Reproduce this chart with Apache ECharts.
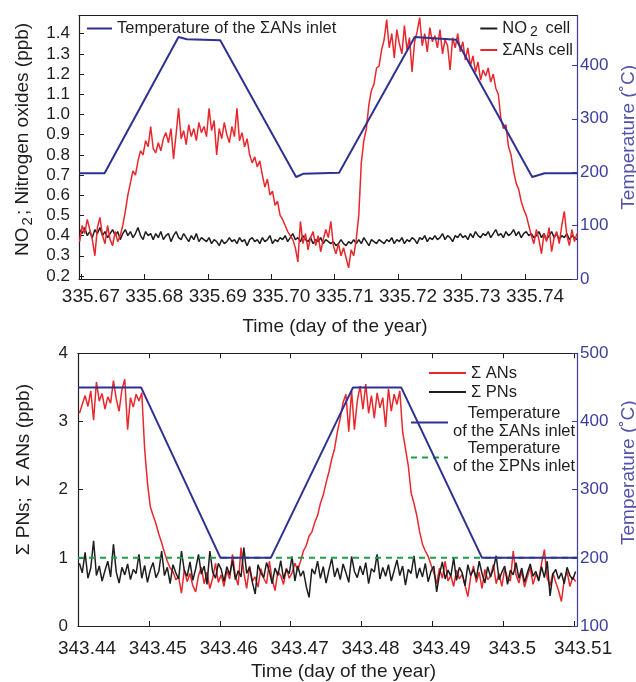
<!DOCTYPE html>
<html><head><meta charset="utf-8">
<script src="https://cdn.jsdelivr.net/npm/echarts@6/dist/echarts.min.js"></script>
<style>html,body{margin:0;padding:0;background:#fff}#c{width:636px;height:682px}</style>
</head><body><div id="c"></div>
<script>
// ---------- TOP PANEL DATA ----------
const topT0 = 335.6698, topStep = 0.0004;
const topANs = [
0.37,0.45,0.41,0.48,0.43,0.38,0.30,0.44,0.49,0.40,
0.36,0.45,0.38,0.35,0.42,0.37,0.40,0.45,0.52,0.60,
0.66,0.72,0.70,0.77,0.82,0.80,0.87,0.84,0.94,0.83,
0.81,0.86,0.82,0.88,0.91,0.86,0.93,0.78,0.90,1.03,
0.88,0.92,0.85,0.95,0.89,0.93,0.87,0.96,0.91,0.94,
0.89,1.03,0.92,0.97,0.80,0.93,0.88,0.96,0.90,0.86,
0.94,0.89,1.03,0.87,0.91,0.84,0.88,0.80,0.76,0.79,
0.74,0.77,0.70,0.64,0.68,0.60,0.62,0.55,0.57,0.50,
0.48,0.45,0.42,0.40,0.38,0.34,0.27,0.47,0.36,0.41,
0.33,0.39,0.42,0.35,0.40,0.32,0.38,0.43,0.39,0.47,
0.35,0.31,0.36,0.30,0.34,0.29,0.24,0.33,0.30,0.38,
0.50,0.76,0.87,0.93,1.05,1.12,1.15,1.23,1.24,1.32,
1.37,1.47,1.33,1.40,1.28,1.42,1.35,1.30,1.44,1.32,
1.38,1.21,1.36,1.41,1.48,1.34,1.40,1.31,1.43,1.36,
1.39,1.33,1.42,1.30,1.37,1.34,1.22,1.38,1.33,1.40,
1.31,1.36,1.27,1.33,1.24,1.29,1.21,1.26,1.17,1.22,
1.19,1.23,1.16,1.20,1.13,1.10,0.98,0.93,0.95,0.84,
0.80,0.72,0.66,0.63,0.57,0.53,0.50,0.45,0.40,0.36,
0.43,0.38,0.31,0.41,0.37,0.44,0.32,0.39,0.42,0.36,
0.45,0.52,0.40,0.35,0.43,0.37,0.41];
const topNO2 = [
0.43,0.41,0.44,0.40,0.42,0.39,0.43,0.41,0.44,0.40,
0.42,0.39,0.41,0.43,0.40,0.42,0.38,0.41,0.43,0.40,
0.42,0.39,0.41,0.44,0.40,0.38,0.42,0.40,0.41,0.38,
0.41,0.39,0.42,0.38,0.40,0.41,0.37,0.40,0.42,0.39,
0.38,0.41,0.39,0.37,0.40,0.38,0.41,0.37,0.39,0.38,
0.37,0.39,0.36,0.38,0.37,0.35,0.38,0.36,0.37,0.39,
0.37,0.38,0.36,0.39,0.37,0.38,0.35,0.38,0.39,0.37,
0.38,0.36,0.39,0.37,0.38,0.40,0.36,0.38,0.37,0.39,
0.38,0.40,0.37,0.39,0.41,0.38,0.39,0.37,0.40,0.38,
0.37,0.39,0.36,0.38,0.37,0.39,0.36,0.38,0.37,0.36,
0.37,0.35,0.36,0.38,0.36,0.35,0.37,0.36,0.38,0.36,
0.38,0.36,0.39,0.37,0.35,0.38,0.37,0.36,0.38,0.37,
0.36,0.38,0.37,0.39,0.36,0.38,0.37,0.39,0.36,0.38,
0.37,0.39,0.38,0.36,0.39,0.38,0.40,0.37,0.39,0.38,
0.40,0.38,0.39,0.41,0.38,0.40,0.39,0.37,0.40,0.39,
0.41,0.39,0.40,0.38,0.41,0.39,0.42,0.40,0.39,0.41,
0.40,0.42,0.39,0.41,0.43,0.40,0.41,0.39,0.42,0.40,
0.41,0.43,0.40,0.42,0.39,0.41,0.42,0.40,0.41,0.39,
0.40,0.42,0.39,0.41,0.38,0.40,0.42,0.39,0.41,0.38,
0.40,0.39,0.41,0.38,0.40,0.39,0.38];
const topTempT = [335.66975,335.67373,335.68539,335.68671,335.69196,335.70392,335.70503,335.71070,335.72262,335.72917,335.74114,335.74310,335.74823];
const topTempV = [198,198,453,449,447,191,197,199,453,448,191,198,198];
const topXTicks = [335.67,335.68,335.69,335.70,335.71,335.72,335.73,335.74];
const topXLabels = ['335.67','335.68','335.69','335.70','335.71','335.72','335.73','335.74'];
const topYTicks = [0.2,0.3,0.4,0.5,0.6,0.7,0.8,0.9,1.0,1.1,1.2,1.3,1.4];
const topYLabels = ['0.2','0.3','0.4','0.5','0.6','0.7','0.8','0.9','1.0','1.1','1.2','1.3','1.4'];
const topY2Ticks = [0,100,200,300,400];
const topY2Labels = ['0','100','200','300','400'];

// ---------- BOTTOM PANEL DATA ----------
const botT0 = 343.4402, botStep = 0.0004;
const botANs = [
3.12,3.25,3.38,3.22,3.45,3.02,3.58,3.30,3.41,3.18,
3.36,3.27,3.60,3.33,3.15,3.47,3.62,2.88,3.35,3.21,
3.40,3.30,
3.42,2.60,2.10,1.75,1.62,1.50,1.35,1.22,1.08,0.95,0.85,
0.80,0.68,0.72,0.48,0.83,0.65,0.77,0.59,0.50,0.74,
0.86,0.62,0.79,0.55,0.70,0.92,0.64,0.75,0.58,0.81,
0.69,1.05,0.73,0.60,1.15,0.78,0.55,0.88,0.66,0.72,
0.57,0.84,0.70,0.62,0.95,0.68,0.52,0.80,0.74,0.61,
0.85,0.70,0.78,0.92,0.82,
0.95,1.10,1.18,1.32,1.38,1.52,1.62,1.80,1.92,2.10,2.26,2.45,2.60,2.85,3.05,3.28,3.40,
2.85,3.45,2.88,3.30,3.52,3.18,3.55,3.12,3.38,3.05,
3.42,3.20,3.35,2.92,3.48,3.15,3.40,3.25,3.45,
2.85,2.60,2.35,1.95,1.80,1.62,1.38,1.20,1.10,1.02,0.90,
0.78,0.62,0.85,0.70,0.95,0.66,0.74,0.58,0.82,0.69,
0.76,0.60,0.43,0.72,0.88,0.64,0.79,0.55,0.83,0.68,
0.73,0.90,0.62,0.77,0.58,0.84,0.70,0.66,1.10,0.75,
0.63,0.81,0.57,0.72,0.86,0.61,0.76,0.68,0.92,1.12,
0.70,0.59,0.78,0.64,0.52,0.36,0.68,0.80,0.58,0.72,0.65];
const botPNs = [
0.92,0.78,1.08,0.70,0.85,1.25,0.74,0.88,0.66,0.81,
0.95,0.72,1.20,0.79,0.63,0.86,0.75,0.91,0.68,0.83,
0.77,1.05,0.70,0.89,0.64,0.82,0.93,0.71,0.80,1.10,
0.74,0.86,0.62,0.90,0.78,0.69,1.10,0.81,0.73,0.94,
0.67,0.84,1.05,0.76,0.88,0.61,1.10,0.79,0.70,0.92,
0.83,0.65,0.87,0.75,0.96,0.68,0.81,0.72,1.15,0.77,
0.86,0.64,0.47,0.90,0.78,0.71,0.93,0.80,0.62,0.85,
0.74,0.96,0.69,0.83,0.77,1.02,0.66,0.88,0.73,0.81,
0.58,0.42,0.84,0.76,0.95,0.70,0.87,0.63,0.82,0.99,
0.72,0.85,0.68,0.91,0.78,0.64,1.02,0.80,0.71,0.88,
0.75,0.93,0.62,0.84,0.79,1.05,0.69,0.86,0.73,0.90,
0.66,0.81,0.97,0.74,0.88,0.60,0.83,0.77,1.03,0.70,
0.85,0.72,0.92,0.65,0.80,0.88,0.50,0.76,0.94,0.69,
0.82,0.73,1.00,0.67,0.86,0.78,0.59,0.90,0.74,0.83,
0.70,0.95,0.77,0.63,0.87,0.72,0.84,1.03,0.68,0.79,
0.88,0.61,0.82,0.75,0.93,0.70,0.85,0.64,0.78,0.91,
0.73,0.80,0.66,0.87,0.71,0.95,0.44,0.76,0.83,0.69,
0.78,0.62,0.86,0.74,0.68,0.80];
const botTempANsT = [343.44,343.4489,343.4601,343.4672,343.4788,343.4856,343.4970,343.5104];
const botTempANsV = [450,450,200,200,450,450,200,200];
const botTempPNsT = [343.44,343.5104];
const botTempPNsV = [200,200];
const botXTicks = [343.44,343.45,343.46,343.47,343.48,343.49,343.50,343.51];
const botXLabels = ['343.44','343.45','343.46','343.47','343.48','343.49','343.5','343.51'];
const botYTicks = [0,1,2,3,4];
const botYLabels = ['0','1','2','3','4'];
const botY2Ticks = [100,200,300,400,500];
const botY2Labels = ['100','200','300','400','500'];

// ---------- CHART ----------
const FONT = "'Liberation Sans', Arial, Helvetica, sans-serif";
const INK = '#1e1e1e', RED = '#e8282d', BLUE = '#2e3192', AXB = '#3c3ca0', AXN = '#5252a8', GREEN = '#1f9e4a';
function fmt(vals, labels){ return v => { for (let i=0;i<vals.length;i++) if (Math.abs(v-vals[i])<1e-7) return labels[i]; return ''; }; }
function pairs(ts, vs){ return vs.map((v,i)=>[ts[i], v]); }
function grid(t0, step, vs){ return vs.map((v,i)=>[t0+step*i, v]); }

function xAx(gi, min, max, ticks, labels, margin, pad, nameGap, namePad){
  return {gridIndex:gi, type:'value', min:min, max:max, position:'bottom',
    axisLine:{lineStyle:{color:INK,width:1.2}},
    axisTick:{inside:true,length:5,customValues:ticks,lineStyle:{color:INK}},
    axisLabel:{customValues:ticks,formatter:fmt(ticks,labels),fontSize:19,color:INK,margin:margin,padding:[0,0,0,pad],fontFamily:FONT},
    splitLine:{show:false},
    name:'Time (day of the year)', nameLocation:'middle', nameGap:nameGap,
    nameTextStyle:{fontSize:19,color:INK,padding:[0,0,0,namePad],fontFamily:FONT}};
}
function xTop(gi, min, max, ticks){
  return {gridIndex:gi, type:'value', min:min, max:max, position:'top',
    axisLine:{show:true,lineStyle:{color:INK,width:1.2}},
    axisTick:{show:!!ticks,inside:true,length:5,customValues:ticks||[],lineStyle:{color:INK}},
    axisLabel:{show:false}, splitLine:{show:false}};
}
const LEG = {padding:0, selectedMode:false, itemStyle:{opacity:0}};

const option = {
  animation:false,
  textStyle:{fontFamily:FONT},
  grid:[
    {left:79, right:59, top:15.7, height:263.3, outerBoundsMode:'none', containLabel:false},
    {left:78, right:59, top:353.3, height:272.7, outerBoundsMode:'none', containLabel:false}
  ],
  xAxis:[
    xAx(0, 335.6697, 335.7482, topXTicks, topXLabels, 8, 20, 38, 14),
    xTop(0, 335.6697, 335.7482, null),
    xAx(1, 343.44, 343.5104, botXTicks, botXLabels, 13, 18, 36, 32),
    xTop(1, 343.44, 343.5104, botXTicks)
  ],
  yAxis:[
    {gridIndex:0, type:'value', min:0.185, max:1.489, position:'left',
      axisLine:{show:true,lineStyle:{color:INK,width:1.2}},
      axisTick:{show:true,inside:true,length:5,customValues:topYTicks,lineStyle:{color:INK}},
      axisLabel:{customValues:topYTicks,formatter:fmt(topYTicks,topYLabels),fontSize:17,color:INK,margin:9},
      splitLine:{show:false},
      name:'{a|NO}{s|2}{a|; Nitrogen oxides (ppb)}', nameLocation:'middle', nameGap:44,
      nameTextStyle:{fontSize:19,color:INK,padding:[0,0,0,16],
        rich:{a:{fontSize:19,color:INK,fontFamily:FONT}, s:{fontSize:15,color:INK,fontFamily:FONT,padding:[9,2,0,2]}}}},
    {gridIndex:0, type:'value', min:0, max:493, position:'right',
      axisLine:{show:true,lineStyle:{color:AXB,width:1.2}},
      axisTick:{show:true,inside:true,length:5,customValues:topY2Ticks,lineStyle:{color:AXB}},
      axisLabel:{customValues:topY2Ticks,formatter:fmt(topY2Ticks,topY2Labels),fontSize:17,color:AXB,margin:3},
      splitLine:{show:false},
      name:'Temperature (˚C)', nameLocation:'middle', nameGap:35,
      nameTextStyle:{fontSize:19,color:AXN,padding:[0,0,0,20]}},
    {gridIndex:1, type:'value', min:0, max:4, position:'left',
      axisLine:{show:true,lineStyle:{color:INK,width:1.2}},
      axisTick:{show:true,inside:true,length:5,customValues:botYTicks,lineStyle:{color:INK}},
      axisLabel:{customValues:botYTicks,formatter:fmt(botYTicks,botYLabels),fontSize:17,color:INK,margin:10},
      splitLine:{show:false},
      name:'Σ PNs;  Σ ANs (ppb)', nameLocation:'middle', nameGap:45,
      nameTextStyle:{fontSize:19,color:INK,padding:[0,0,0,40]}},
    {gridIndex:1, type:'value', min:100, max:500, position:'right',
      axisLine:{show:true,lineStyle:{color:AXB,width:1.2}},
      axisTick:{show:true,inside:true,length:5,customValues:botY2Ticks,lineStyle:{color:AXB}},
      axisLabel:{customValues:botY2Ticks,formatter:fmt(botY2Ticks,botY2Labels),fontSize:17,color:AXB,margin:3},
      splitLine:{show:false},
      name:'Temperature (˚C)', nameLocation:'middle', nameGap:35,
      nameTextStyle:{fontSize:19,color:AXN,padding:[0,0,0,34]}}
  ],
  legend:[
    Object.assign({data:['Temperature of the ΣANs inlet'], left:86, top:20, itemWidth:25, itemHeight:14,
      textStyle:{fontSize:16.5,color:INK}}, LEG),
    Object.assign({data:['NO2 cell','ΣANs cell'], orient:'vertical', right:63, top:20, itemWidth:17, itemHeight:14, itemGap:2,
      formatter: n => n==='NO2 cell' ? '{n|NO}{s|2}{n| cell}' : '{n|'+n+'}',
      textStyle:{fontSize:16.5,color:INK,rich:{n:{fontSize:16.5,color:INK},s:{fontSize:14,color:INK,padding:[8,3,0,3]}}}}, LEG),
    Object.assign({data:['Σ ANs','Σ PNs'], orient:'vertical', left:428, top:363.5, itemWidth:37, itemHeight:14, itemGap:0,
      textStyle:{fontSize:16.5,color:INK,lineHeight:19}}, LEG),
    Object.assign({data:['Temperature of the ΣANs inlet','Temperature of the ΣPNs inlet'], orient:'vertical', left:410, top:405, itemWidth:37, itemHeight:14, itemGap:0,
      formatter: n => '{c|Temperature}\n{d|'+n.replace('Temperature ','')+'}',
      textStyle:{fontSize:16.5,color:INK,rich:{c:{fontSize:16.5,lineHeight:18,color:INK,align:'center'},d:{fontSize:16.5,lineHeight:18,color:INK}}}}, LEG)
  ],
  series:[
    {name:'NO2 cell', type:'line', xAxisIndex:0, yAxisIndex:0, symbol:'none', data:grid(topT0,topStep,topNO2),
      lineStyle:{color:INK,width:1.5}, itemStyle:{color:INK}, z:2},
    {name:'ΣANs cell', type:'line', xAxisIndex:0, yAxisIndex:0, symbol:'none', data:grid(topT0,topStep,topANs),
      lineStyle:{color:RED,width:1.5}, itemStyle:{color:RED}, z:3},
    {name:'Temperature of the ΣANs inlet', type:'line', xAxisIndex:0, yAxisIndex:1, symbol:'none', data:pairs(topTempT,topTempV),
      lineStyle:{color:BLUE,width:2}, itemStyle:{color:BLUE}, z:4},
    {name:'Σ ANs', type:'line', xAxisIndex:2, yAxisIndex:2, symbol:'none', data:grid(botT0,botStep,botANs),
      lineStyle:{color:RED,width:1.5}, itemStyle:{color:RED}, z:2},
    {name:'Σ PNs', type:'line', xAxisIndex:2, yAxisIndex:2, symbol:'none', data:grid(botT0,botStep,botPNs),
      lineStyle:{color:INK,width:1.5}, itemStyle:{color:INK}, z:3},
    {name:'Temperature of the ΣPNs inlet', type:'line', xAxisIndex:2, yAxisIndex:3, symbol:'none', data:pairs(botTempPNsT,botTempPNsV),
      lineStyle:{color:GREEN,width:2,type:[6,5]}, itemStyle:{color:GREEN}, z:4},
    {name:'Temperature of the ΣANs inlet', type:'line', xAxisIndex:2, yAxisIndex:3, symbol:'none', data:pairs(botTempANsT,botTempANsV),
      lineStyle:{color:BLUE,width:2}, itemStyle:{color:BLUE}, z:5}
  ]
};
const chart = echarts.init(document.getElementById('c'), null, {renderer:'canvas'});
chart.setOption(option);
</script></body></html>
